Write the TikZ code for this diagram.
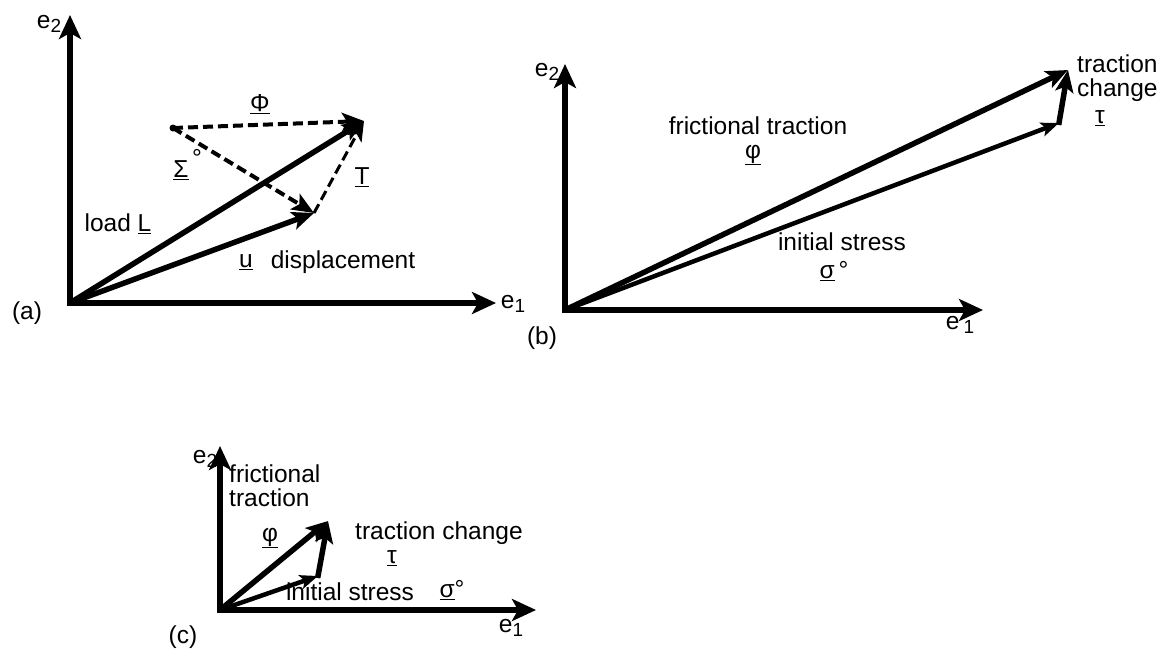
\documentclass[tikz,border=0pt]{standalone}
\usepackage{fontspec}
\setmainfont{Liberation Sans}
\usetikzlibrary{arrows.meta}
\newcommand{\subidx}[1]{\raisebox{-0.35ex}{\fontsize{19}{19}\selectfont #1}}
\begin{document}
\begin{tikzpicture}[x=1pt,y=-1pt,
  axis/.style={line width=5.5pt,-{Stealth[length=24pt,width=22pt,inset=6pt]}},
  vec/.style={line width=5.5pt,-{Stealth[length=22pt,width=18pt,inset=5pt]}},
  thinvec/.style={line width=4.5pt,-{Stealth[length=18pt,width=14pt,inset=4pt]}},
  dvec/.style={line width=4pt,dash pattern=on 10pt off 5pt,-{Stealth[length=22pt,width=18pt,inset=5pt]}},
  dtvec/.style={line width=3pt,dash pattern=on 10pt off 5pt,-{Stealth[length=20pt,width=16pt,inset=5pt]}},
  lbl/.style={font=\fontsize{24.5}{24}\selectfont,inner sep=0pt},
  lbll/.style={lbl,anchor=west}]
\useasboundingbox (0,0) rectangle (1170,651);
% ---------- panel (a)
\coordinate (Oa) at (70,303);
\coordinate (Ya) at (70,15);
\coordinate (Xa) at (496,303);
\coordinate (La) at (364,121);
\coordinate (Ua) at (314,213);
\coordinate (Sa) at (173,128);
\draw[axis,line cap=rect] (Oa) -- (Ya);
\draw[axis,line cap=rect] (Oa) -- (Xa);
\draw[vec] (Oa) -- (La);
\draw[vec] (Oa) -- (Ua);
\fill (Sa) circle (3.5pt);
\draw[dvec] (Sa) -- (La);
\draw[dvec] (Sa) -- (Ua);
\draw[dtvec] (Ua) -- (La);
\node[lbl] (e2a) at (49,24) {e\subidx{2}};
\node[lbl] (e1a) at (513,304) {e\subidx{1}};
\node[lbl] (ta) at (27,313) {(a)};
\node[lbl] (Phia) at (260,104) {\underline{Φ}};
\node[lbl] (Siga) at (181,170) {\underline{Σ}};
\node[lbl] (dega) at (197,158) {°};
\node[lbl] (Ta) at (362,177) {\underline{T}};
\node[lbl] (loada) at (118,224) {load \underline{L}};
\node[lbl] (ua) at (246,262) {\underline{u}};
\node[lbl] (dispa) at (343,262) {displacement};
% ---------- panel (b)
\coordinate (Ob) at (565,310);
\coordinate (Yb) at (565,64);
\coordinate (Xb) at (983,310);
\coordinate (Pb) at (1068,70);
\coordinate (Sb) at (1059,123);
\draw[axis,line cap=rect] (Ob) -- (Yb);
\draw[axis,line cap=rect] (Ob) -- (Xb);
\draw[vec] (Ob) -- (Pb);
\draw[thinvec] (Ob) -- (Sb);
\draw[vec,shorten <=-2pt] (Sb) -- (Pb);
\node[lbl] (e2b) at (547,72) {e\subidx{2}};
\node[lbl] (e1b) at (960,325) {e\,\subidx{1}};
\node[lbl] (tb) at (542,338) {(b)};
\node[lbl] (ftb) at (758,126) {frictional traction};
\node[lbl] (phib) at (753,155) {\underline{φ}};
\node[lbl] (isb) at (842,242) {initial stress};
\node[lbl] (sigb) at (834,271) {\underline{σ}\,°};
\node[lbl,anchor=north west,align=left] (tcb) at (1077,55) {traction\\change};
\node[lbl] (taub) at (1100,118) {\underline{τ}};
% ---------- panel (c)
\coordinate (Oc) at (220,610);
\coordinate (Yc) at (220,446);
\coordinate (Xc) at (536,610);
\coordinate (Pc) at (328,521);
\coordinate (Sc) at (318,576);
\draw[axis,line cap=rect] (Oc) -- (Yc);
\draw[axis,line cap=rect] (Oc) -- (Xc);
\draw[vec] (Oc) -- (Pc);
\draw[thinvec] (Oc) -- (Sc);
\draw[vec,shorten <=-2pt] (Sc) -- (Pc);
\node[lbl] (e2c) at (205,459) {e\subidx{2}};
\node[lbl] (e1c) at (511,628) {e\subidx{1}};
\node[lbl] (tc) at (183,637) {(c)};
\node[lbl,anchor=north west,align=left] (ftc) at (229,465) {frictional\\traction};
\node[lbl] (phic) at (270,538) {\underline{φ}};
\node[lbl] (tcc) at (439,533) {traction change};
\node[lbl] (tauc) at (392,558) {\underline{τ}};
\node[lbl] (isc) at (350,592) {initial stress};
\node[lbl] (sigc) at (452,590) {\underline{σ}°};
\end{tikzpicture}
\end{document}
